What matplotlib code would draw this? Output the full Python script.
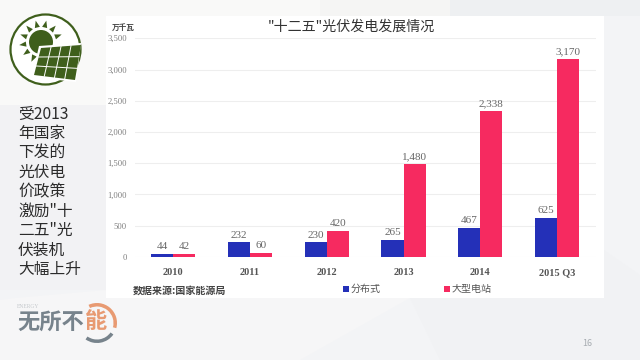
#!/usr/bin/env python3
"""Recreate the solar capacity slide: grouped bars plus the slide decoration."""

import matplotlib
matplotlib.use('Agg')
import matplotlib.pyplot as plt
from matplotlib.patches import Circle, Polygon, Rectangle, Wedge
import numpy as np

plt.rcParams['font.family'] = ['Noto Sans CJK SC', 'DejaVu Sans']

categories = ['2010', '2011', '2012', '2013', '2014', '2015 Q3']
distributed = [44, 232, 230, 265, 467, 625]
utility = [42, 60, 420, 1480, 2338, 3170]
y_ticks = [0, 500, 1000, 1500, 2000, 2500, 3000, 3500]
series_names = ['分布式', '大型电站']
side_text = ['受2013', '年国家', '下发的', '光伏电', '价政策', '激励"十', '二五"光', '伏装机', '大幅上升']

BLUE = '#2430b8'
RED = '#f62a60'
GREEN = '#3f5f1c'
ORANGE = '#e89a72'
SLATE = '#77838c'
W, H = 640, 360
SERIF = ['Liberation Serif', 'DejaVu Serif']

fig = plt.figure(figsize=(6.4, 3.6), dpi=100, facecolor='#f3f4f6')

# pixel-coordinate layer for everything that is not the chart itself
bg = fig.add_axes([0, 0, 1, 1], zorder=0)
bg.set_xlim(0, W)
bg.set_ylim(H, 0)
bg.axis('off')
bg.add_patch(Rectangle((0, 0), 320, 105, color='#f9f9f8', lw=0))
bg.add_patch(Rectangle((320, 0), 130, 16, color='#f5f5f4', lw=0))
bg.add_patch(Rectangle((450, 0), 190, 16, color='#eef0f2', lw=0))
bg.add_patch(Rectangle((0, 105), 106, 185, color='#f2f2f4', lw=0))
bg.add_patch(Polygon([[15, 298], [106, 290], [410, 298], [300, 360], [0, 360], [0, 300]],
                     color='#f6f6f7', lw=0))
bg.add_patch(Polygon([[604, 250], [640, 275], [640, 360], [440, 360], [410, 298], [604, 298]],
                     color='#f1f2f4', lw=0))
bg.add_patch(Rectangle((106, 16), 498, 282, color='white', lw=0))

# sun and panel logo
bg.add_patch(Circle((45.5, 49.5), 35, fc='white', ec=GREEN, lw=1.6))
bg.add_patch(Circle((41, 42), 12, color=GREEN, lw=0))
for angle in [188, 160, 132, 104, 76, 48, 20, 216, 244]:
    rad = np.radians(angle)
    mid = np.array([41 + 15 * np.cos(rad), 42 - 15 * np.sin(rad)])
    tip = np.array([41 + 22 * np.cos(rad), 42 - 22 * np.sin(rad)])
    side = 2.6 * np.array([np.sin(rad), np.cos(rad)])
    bg.add_patch(Polygon([mid + side, tip, mid - side], color=GREEN, lw=0))
panel = np.array([[41, 48], [81, 45], [75, 80], [34, 75]], dtype=float)
bg.add_patch(Polygon(panel + [[-2, -2], [0, -2], [1, 2], [-2, 2]], fc='white', ec='none'))
bg.add_patch(Polygon(panel, color=GREEN, lw=0))
for t in [1 / 3, 2 / 3]:
    a, b = panel[0] + t * (panel[3] - panel[0]), panel[1] + t * (panel[2] - panel[1])
    bg.plot([a[0], b[0]], [a[1], b[1]], color='white', lw=0.7)
for t in [0.25, 0.5, 0.75]:
    a, b = panel[0] + t * (panel[1] - panel[0]), panel[3] + t * (panel[2] - panel[3])
    bg.plot([a[0], b[0]], [a[1], b[1]], color='white', lw=0.7)

# left text column
for i, line in enumerate(side_text):
    bg.text(18, 114 + i * 19.4, line, fontsize=11.3, color='#2b2b2b', ha='left', va='center')

# bottom logo
bg.text(17, 322, '无所不', fontsize=16, fontweight='bold', color=SLATE, va='center', ha='left')
bg.text(85, 322, '能', fontsize=16, fontweight='bold', color=ORANGE, va='center', ha='left')
bg.text(17, 307, 'ENERGY', fontsize=4, color='#c4c8cc', va='center', ha='left', family=SERIF)
bg.add_patch(Wedge((97, 323), 20, -115, 15, width=3.5, color=ORANGE, lw=0))
bg.add_patch(Wedge((97, 323), 20, 35, 125, width=3.5, color=SLATE, lw=0))

bg.text(587, 343, '16', fontsize=6.5, color='#a8adb2', ha='center', va='center')

# chart axes: y=0 at pixel 257, y=3500 at pixel 38
left, right, top, bottom = 134.6, 595.6, 38.3, 256.8
ax = fig.add_axes([left / W, 1 - bottom / H, (right - left) / W, (bottom - top) / H], zorder=1)
ax.patch.set_alpha(0)

x = np.arange(len(categories))
bar_w = 0.287
ax.bar(x - bar_w / 2, distributed, bar_w, color=BLUE, linewidth=0, zorder=3)
ax.bar(x + bar_w / 2, utility, bar_w, color=RED, linewidth=0, zorder=3)

for i in x:
    ax.text(i - bar_w / 2, distributed[i] + 45, f'{distributed[i]:,}', family=SERIF, fontsize=8,
            color='#666666', ha='center', va='bottom')
    ax.text(i + bar_w / 2, utility[i] + 45, f'{utility[i]:,}', family=SERIF, fontsize=8,
            color='#666666', ha='center', va='bottom')

ax.set_xlim(-0.5, len(categories) - 0.5)
ax.set_ylim(0, 3500)
ax.set_xticks(x)
ax.set_xticklabels(categories, family=SERIF, fontsize=7.5, fontweight='bold', color='#555555')
ax.set_yticks(y_ticks)
ax.set_yticklabels([f'{v:,}' for v in y_ticks], family=SERIF, fontsize=6.2, color='#808080')
ax.tick_params(axis='both', length=0)
ax.tick_params(axis='x', pad=8)
ax.tick_params(axis='y', pad=5.6)
ax.grid(axis='y', color='#eeeeee', linewidth=0.8, zorder=0)
ax.set_axisbelow(True)
for spine in ax.spines.values():
    spine.set_visible(False)

# texts placed in pixels on top of the chart
top_layer = fig.add_axes([0, 0, 1, 1], zorder=2)
top_layer.set_xlim(0, W)
top_layer.set_ylim(H, 0)
top_layer.axis('off')
top_layer.text(351.5, 27, '"十二五"光伏发电发展情况', fontsize=10.1, fontweight='medium', color='#333333',
               ha='center', va='center')
top_layer.text(123, 27, '万千瓦', fontsize=5.5, fontweight='bold', color='#444444', ha='center', va='center')
top_layer.text(133, 291, '数据来源:国家能源局', fontsize=7.2, fontweight='bold', color='#444444',
               ha='left', va='center')
top_layer.add_patch(Rectangle((343, 286), 5.5, 5.5, color=BLUE, lw=0))
top_layer.text(351, 289, series_names[0], fontsize=7.2, color='#555555', ha='left', va='center')
top_layer.add_patch(Rectangle((444, 286), 5.5, 5.5, color=RED, lw=0))
top_layer.text(452, 289, series_names[1], fontsize=7.2, color='#555555', ha='left', va='center')

fig.savefig('out.png', dpi=100, facecolor=fig.get_facecolor())
